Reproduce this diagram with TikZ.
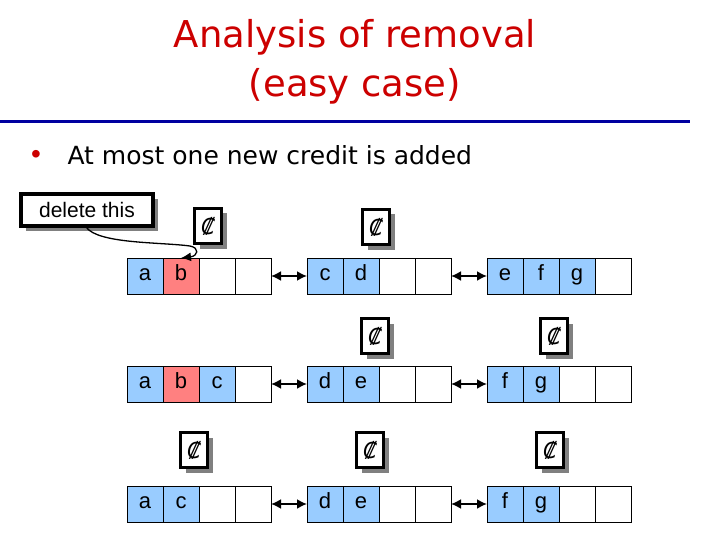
\documentclass[tikz,border=0pt]{standalone}
\usepackage{fontspec}
\setmainfont{Liberation Sans}
\newfontfamily\titlefont{DejaVu Sans}
\newfontfamily\coinfont{DejaVu Sans}
\usetikzlibrary{arrows.meta,shadows,positioning}
\definecolor{titlered}{RGB}{204,0,0}
\definecolor{rulecol}{RGB}{0,0,160}
\definecolor{cellblue}{RGB}{153,204,255}
\definecolor{cellred}{RGB}{255,128,128}
\definecolor{shadowgray}{RGB}{128,128,128}
\tikzset{
  cell/.style={draw, line width=0.8pt, minimum width=36pt, minimum height=36pt, inner sep=0pt, outer sep=0pt,
    text height=13pt, text depth=4pt, font=\fontsize{22}{22}\selectfont},
  bcell/.style={cell, fill=cellblue},
  rcell/.style={cell, fill=cellred},
  ecell/.style={cell, fill=white},
  coin/.style={draw, line width=3.5pt, fill=white, minimum width=27pt, minimum height=35pt, inner sep=0pt,
    font=\coinfont\itshape\fontsize{22}{22}\selectfont,
    drop shadow={shadow xshift=5pt, shadow yshift=-5pt, fill=shadowgray, opacity=1}},
  callout/.style={draw, line width=3.5pt, fill=white, minimum width=132pt, minimum height=32pt, inner sep=0pt,
    font=\fontsize{21}{21}\selectfont,
    drop shadow={shadow xshift=5pt, shadow yshift=-5pt, fill=shadowgray, opacity=1}},
  link/.style={line width=1.8pt, {Latex[length=10pt,width=10pt]}-{Latex[length=10pt,width=10pt]}},
}
\begin{document}
\begin{tikzpicture}[x=1pt,y=-1pt,node distance=0pt]
\useasboundingbox[fill=white] (0,0) rectangle (720,540);
% title
\node[text=titlered, font=\titlefont\fontsize{37}{37}\selectfont] (t1) at (355,37) {Analysis of removal};
\node[text=titlered, font=\titlefont\fontsize{37}{37}\selectfont] (t2) at (355,86) {(easy case)};
\draw[rulecol, line width=3pt] (0,122) -- (690,122);
\node[text=titlered, font=\fontsize{28}{28}\selectfont] (bul) at (36,157) {•};
\node[anchor=west, font=\titlefont\fontsize{25}{25}\selectfont] (btxt) at (64,155) {At most one new credit is added};

% row 1
\node[bcell, anchor=north west] (r1a1) at (127,258) {a};
\node[rcell, right=of r1a1] (r1a2) {b};
\node[ecell, right=of r1a2] (r1a3) {};
\node[ecell, right=of r1a3] (r1a4) {};
\node[bcell, anchor=north west] (r1b1) at (307,258) {c};
\node[bcell, right=of r1b1] (r1b2) {d};
\node[ecell, right=of r1b2] (r1b3) {};
\node[ecell, right=of r1b3] (r1b4) {};
\node[bcell, anchor=north west] (r1c1) at (487,258) {e};
\node[bcell, right=of r1c1] (r1c2) {f};
\node[bcell, right=of r1c2] (r1c3) {g};
\node[ecell, right=of r1c3] (r1c4) {};
\draw[link] (r1a4.east) -- (r1b1.west);
\draw[link] (r1b4.east) -- (r1c1.west);
\node[coin] (k11) at (208,226) {₡};
\node[coin] (k12) at (376,227) {₡};

% row 2
\node[bcell, anchor=north west] (r2a1) at (127,366) {a};
\node[rcell, right=of r2a1] (r2a2) {b};
\node[bcell, right=of r2a2] (r2a3) {c};
\node[ecell, right=of r2a3] (r2a4) {};
\node[bcell, anchor=north west] (r2b1) at (307,366) {d};
\node[bcell, right=of r2b1] (r2b2) {e};
\node[ecell, right=of r2b2] (r2b3) {};
\node[ecell, right=of r2b3] (r2b4) {};
\node[bcell, anchor=north west] (r2c1) at (487,366) {f};
\node[bcell, right=of r2c1] (r2c2) {g};
\node[ecell, right=of r2c2] (r2c3) {};
\node[ecell, right=of r2c3] (r2c4) {};
\draw[link] (r2a4.east) -- (r2b1.west);
\draw[link] (r2b4.east) -- (r2c1.west);
\node[coin] (k22) at (375,336) {₡};
\node[coin] (k23) at (554,336) {₡};

% row 3
\node[bcell, anchor=north west] (r3a1) at (127,486) {a};
\node[bcell, right=of r3a1] (r3a2) {c};
\node[ecell, right=of r3a2] (r3a3) {};
\node[ecell, right=of r3a3] (r3a4) {};
\node[bcell, anchor=north west] (r3b1) at (307,486) {d};
\node[bcell, right=of r3b1] (r3b2) {e};
\node[ecell, right=of r3b2] (r3b3) {};
\node[ecell, right=of r3b3] (r3b4) {};
\node[bcell, anchor=north west] (r3c1) at (487,486) {f};
\node[bcell, right=of r3c1] (r3c2) {g};
\node[ecell, right=of r3c2] (r3c3) {};
\node[ecell, right=of r3c3] (r3c4) {};
\draw[link] (r3a4.east) -- (r3b1.west);
\draw[link] (r3b4.east) -- (r3c1.west);
\node[coin] (k31) at (194,450) {₡};
\node[coin] (k32) at (370,450) {₡};
\node[coin] (k33) at (550,450) {₡};

% delete this
\node[callout] (del) at (87,210) {delete this};
\coordinate (dstart) at (86,227);
\draw[line width=1.3pt, -{Latex[length=10pt,width=9pt]}] (dstart) .. controls (98,244) and (160,242) .. (190,246) .. controls (200,248) and (198,256) .. (r1a2.north);
\end{tikzpicture}
\end{document}
